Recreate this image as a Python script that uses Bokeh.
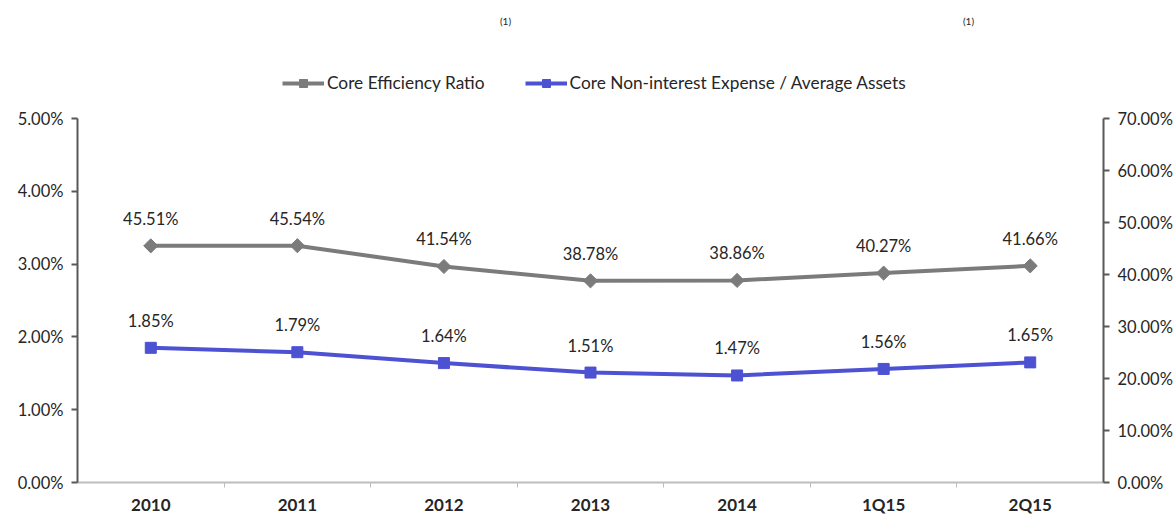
import math
from bokeh.plotting import figure
from bokeh.models import (Range1d, LinearAxis, FixedTicker, PrintfTickFormatter,
                          ColumnDataSource, Legend, LegendItem, Label, LabelSet)
from bokeh.core.properties import value
from bokeh.embed import file_html
from bokeh.resources import INLINE

categories = ["2010", "2011", "2012", "2013", "2014", "1Q15", "2Q15"]
efficiency_ratio = [45.51, 45.54, 41.54, 38.78, 38.86, 40.27, 41.66]
expense_to_assets = [1.85, 1.79, 1.64, 1.51, 1.47, 1.56, 1.65]
left_ticks = [0, 1, 2, 3, 4, 5]
right_ticks = [0, 10, 20, 30, 40, 50, 60, 70]

FONT = "Lato"
GRAY = "#7b7b7b"
BLUE = "#4d52d2"
TXT = "#262626"
AXC = "#595959"

W, H = 1176, 517
left_b, right_b, top_b, bottom_b = 77, 73, 0, 35
frame_h = H - top_b - bottom_b
px_per_unit = 364 / 5.0
y_top = frame_h / px_per_unit
y2_top = y_top * 70 / 5.0

xs = [i + 0.5 for i in range(len(categories))]
src = ColumnDataSource(dict(
    x=xs, cat=categories, eff=efficiency_ratio, exp=expense_to_assets,
    eff_lbl=["%.2f%%" % v for v in efficiency_ratio],
    exp_lbl=["%.2f%%" % v for v in expense_to_assets],
))

p = figure(width=W, height=H, output_backend="svg", toolbar_location=None,
           x_range=Range1d(0, len(categories)), y_range=Range1d(0, y_top),
           min_border_left=left_b, min_border_right=right_b,
           min_border_top=top_b, min_border_bottom=bottom_b)
p.extra_y_ranges = {"right": Range1d(0, y2_top)}
p.outline_line_color = None
p.grid.visible = False
p.background_fill_color = "white"
p.border_fill_color = "white"

# x axis
xa = p.xaxis[0]
xa.ticker = FixedTicker(ticks=xs, minor_ticks=list(range(1, len(categories))))
xa.major_label_overrides = {x: c for x, c in zip(xs, categories)}
xa.axis_line_color = "#bdbdbd"
xa.axis_line_width = 2
xa.major_tick_line_color = None
xa.major_tick_out = 0
xa.major_tick_in = 0
xa.minor_tick_line_color = "#bdbdbd"
xa.minor_tick_out = 5
xa.minor_tick_in = 0
xa.major_label_standoff = 6
xa.major_label_text_font = FONT
xa.major_label_text_font_size = "17px"
xa.major_label_text_font_style = "bold"
xa.major_label_text_color = TXT

def style_y(ax):
    ax.axis_line_color = AXC
    ax.axis_line_width = 2
    ax.major_tick_line_color = AXC
    ax.major_tick_line_width = 2
    ax.major_tick_out = 6
    ax.major_tick_in = 0
    ax.minor_tick_line_color = None
    ax.major_label_standoff = 8
    ax.major_label_text_font = FONT
    ax.major_label_text_font_size = "16.5px"
    ax.major_label_text_color = TXT

ya = p.yaxis[0]
ya.ticker = FixedTicker(ticks=left_ticks)
ya.formatter = PrintfTickFormatter(format="%.2f%%")
ya.bounds = (0, 5)
style_y(ya)

ra = LinearAxis(y_range_name="right", ticker=FixedTicker(ticks=right_ticks),
                formatter=PrintfTickFormatter(format="%.2f%%"), bounds=(0, 70))
style_y(ra)
p.add_layout(ra, "right")

# series
l1 = p.line("x", "eff", source=src, y_range_name="right", line_color=GRAY, line_width=4)
m1 = p.scatter("x", "eff", source=src, y_range_name="right", marker="square",
               angle=math.pi / 4, size=10, fill_color=GRAY, line_color=GRAY)
l2 = p.line("x", "exp", source=src, line_color=BLUE, line_width=4)
m2 = p.scatter("x", "exp", source=src, marker="square", size=11,
               fill_color=BLUE, line_color=BLUE)

lab1 = LabelSet(x="x", y="eff", text="eff_lbl", source=src, y_range_name="right",
                text_align="center", text_baseline="bottom", y_offset=17,
                text_font=value(FONT), text_font_size="16.5px", text_color=TXT)
lab2 = LabelSet(x="x", y="exp", text="exp_lbl", source=src,
                text_align="center", text_baseline="bottom", y_offset=17,
                text_font=value(FONT), text_font_size="16.5px", text_color=TXT)
p.add_layout(lab1)
p.add_layout(lab2)

legend = Legend(items=[
    LegendItem(label="Core Efficiency Ratio", renderers=[l1, m1]),
    LegendItem(label="Core Non-interest Expense / Average Assets", renderers=[l2, m2]),
], orientation="horizontal", location=(205, 389))
legend.label_text_font = FONT
legend.label_text_font_size = "17.3px"
legend.label_text_color = TXT
legend.glyph_width = 42
legend.label_standoff = 3
legend.spacing = 40
legend.padding = 4
legend.border_line_color = None
legend.background_fill_alpha = 0
p.add_layout(legend)

for sx in (505, 968):
    p.add_layout(Label(x=sx - left_b, y=frame_h - 20, x_units="screen", y_units="screen",
                       text="(1)", text_align="center", text_baseline="middle",
                       text_font=FONT, text_font_size="10px", text_color=TXT))

open("out.html", "w").write(file_html(p, INLINE))
